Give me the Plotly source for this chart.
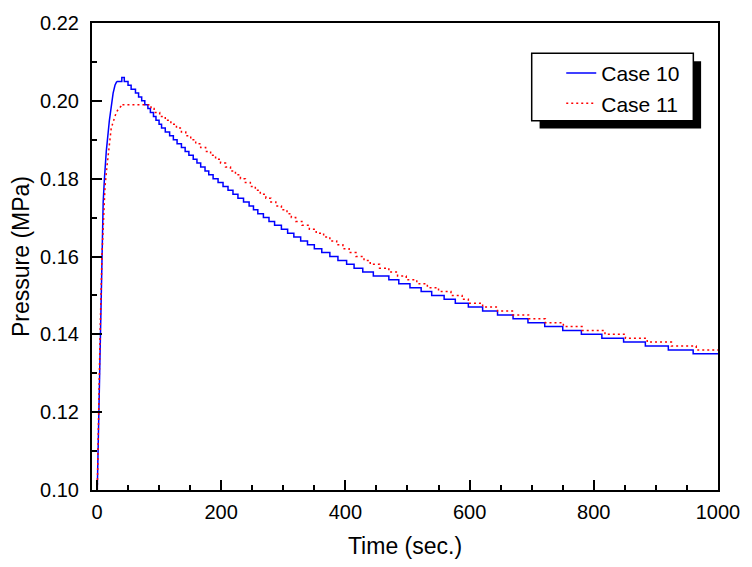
import plotly.graph_objects as go

# Case 10 (blue, solid): initial pressurisation (smooth) and stepwise decay
case10_rise_t = [0.5, 3, 6, 8.5, 10, 12, 15, 20, 23, 26, 29, 32]
case10_rise_p = [0.100, 0.120, 0.139, 0.160, 0.174, 0.180, 0.187, 0.195, 0.199, 0.202, 0.204, 0.205]
case10_t = [32, 40, 44,
            50, 55, 62, 67, 72, 77, 82, 86, 91, 95, 100, 104, 110, 117, 123, 129,
            136, 142, 148, 155, 161, 167, 174, 180, 187, 195, 203, 211, 219, 227,
            236, 245, 252, 259, 268, 277, 286, 297, 307, 317, 328, 339, 350, 362,
            375, 388, 402, 414, 428, 445, 470, 486, 504, 522, 539, 559, 577, 598,
            621, 645, 670, 694, 721, 750, 780, 813, 848, 883, 920, 960, 1000]
case10_p = [0.205, 0.206, 0.205,
            0.204, 0.203, 0.202, 0.201, 0.200, 0.199, 0.198, 0.197, 0.196, 0.195, 0.194, 0.193, 0.192, 0.191, 0.190, 0.189,
            0.188, 0.187, 0.186, 0.185, 0.184, 0.183, 0.182, 0.181, 0.180, 0.179, 0.178, 0.177, 0.176, 0.175,
            0.174, 0.173, 0.172, 0.171, 0.170, 0.169, 0.168, 0.167, 0.166, 0.165, 0.164, 0.163, 0.162, 0.161,
            0.160, 0.159, 0.158, 0.157, 0.156, 0.155, 0.154, 0.153, 0.152, 0.151, 0.150, 0.149, 0.148, 0.147,
            0.146, 0.145, 0.144, 0.143, 0.142, 0.141, 0.140, 0.139, 0.138, 0.137, 0.136, 0.135, 0.135]

# Case 11 (red, dotted)
case11_rise_t = [0.5, 2, 5, 8, 11, 13, 16, 18, 21, 23, 27, 31, 35, 41]
case11_rise_p = [0.100, 0.118, 0.140, 0.160, 0.172, 0.178, 0.183, 0.186, 0.190, 0.193, 0.195, 0.197, 0.198, 0.199]
case11_t = [41,
            87, 92, 101, 110, 119, 128, 136, 143, 151, 159, 167, 175, 183, 191, 199,
            207, 215, 223, 231, 239, 247, 255, 263, 272, 280, 288, 297, 306, 313, 320,
            330, 342, 353, 365, 375, 386, 396, 406, 417, 430, 440, 455, 470, 484, 498,
            515, 532, 550, 570, 588, 598, 621, 645, 669, 695, 722, 751, 781, 818, 851,
            886, 925, 965, 1000]
case11_p = [0.199,
            0.198, 0.197, 0.196, 0.195, 0.194, 0.193, 0.192, 0.191, 0.190, 0.189, 0.188, 0.187, 0.186, 0.185, 0.184,
            0.183, 0.182, 0.181, 0.180, 0.179, 0.178, 0.177, 0.176, 0.175, 0.174, 0.173, 0.172, 0.171, 0.170, 0.169,
            0.168, 0.167, 0.166, 0.165, 0.164, 0.163, 0.162, 0.161, 0.160, 0.159, 0.158, 0.157, 0.156, 0.155, 0.154,
            0.153, 0.152, 0.151, 0.150, 0.149, 0.148, 0.147, 0.146, 0.145, 0.144, 0.143, 0.142, 0.141, 0.140, 0.139,
            0.138, 0.137, 0.136, 0.136]

x_title = "Time (sec.)"
y_title = "Pressure (MPa)"
series_names = ["Case 10", "Case 11"]

FONT = "Liberation Sans, Arial, sans-serif"
BLUE = "#0000FF"
RED = "#FF0000"
RED_DASH = "2px,3px"

fig = go.Figure()
fig.add_trace(go.Scatter(x=case10_t, y=case10_p, mode="lines", name=series_names[0],
                         legendgroup="c10", line=dict(color=BLUE, width=1.5, shape="hv")))
fig.add_trace(go.Scatter(x=case10_rise_t, y=case10_rise_p, mode="lines", name=series_names[0],
                         legendgroup="c10", showlegend=False,
                         line=dict(color=BLUE, width=1.5, shape="linear")))
fig.add_trace(go.Scatter(x=case11_t, y=case11_p, mode="lines", name=series_names[1],
                         legendgroup="c11", line=dict(color=RED, width=1.5, shape="hv", dash=RED_DASH)))
fig.add_trace(go.Scatter(x=case11_rise_t, y=case11_rise_p, mode="lines", name=series_names[1],
                         legendgroup="c11", showlegend=False,
                         line=dict(color=RED, width=1.5, shape="linear", dash=RED_DASH)))

axis_common = dict(showline=True, linewidth=2, linecolor="black", mirror=True,
                   ticks="inside", tickwidth=2, ticklen=10, tickcolor="black",
                   showgrid=False, zeroline=False,
                   tickfont=dict(family=FONT, size=20, color="black"))

fig.update_xaxes(range=[-8, 1000], tick0=0, dtick=200, ticklabelstandoff=3,
                 minor=dict(dtick=50, ticks="inside", ticklen=5, tickwidth=1.5, tickcolor="black"),
                 title=dict(text=x_title, font=dict(family=FONT, size=23, color="black"), standoff=16),
                 **axis_common)
fig.update_yaxes(range=[0.10, 0.22], tick0=0.10, dtick=0.02, tickformat=".2f", ticklabelstandoff=7,
                 minor=dict(dtick=0.01, ticks="inside", ticklen=5, tickwidth=1.5, tickcolor="black"),
                 title=dict(text=y_title, font=dict(family=FONT, size=23, color="black"), standoff=4),
                 **axis_common)

# legend frame with drop shadow
fig.add_shape(type="rect", xref="paper", yref="paper",
              x0=0.715, x1=0.973, y0=0.774, y1=0.918,
              fillcolor="black", line=dict(width=0), layer="above")
fig.add_shape(type="rect", xref="paper", yref="paper",
              x0=0.7024, x1=0.9606, y0=0.7908, y1=0.9351,
              fillcolor="white", line=dict(color="black", width=1.5), layer="above")

fig.update_layout(
    width=752, height=567,
    margin=dict(l=92, r=25, t=15, b=74),
    plot_bgcolor="white", paper_bgcolor="white",
    font=dict(family=FONT, color="black"),
    legend=dict(x=0.7496, y=0.936, xanchor="left", yanchor="top",
                bgcolor="rgba(0,0,0,0)", borderwidth=0,
                font=dict(family=FONT, size=21, color="black"),
                tracegroupgap=0),
)

fig.write_html("out.html")
